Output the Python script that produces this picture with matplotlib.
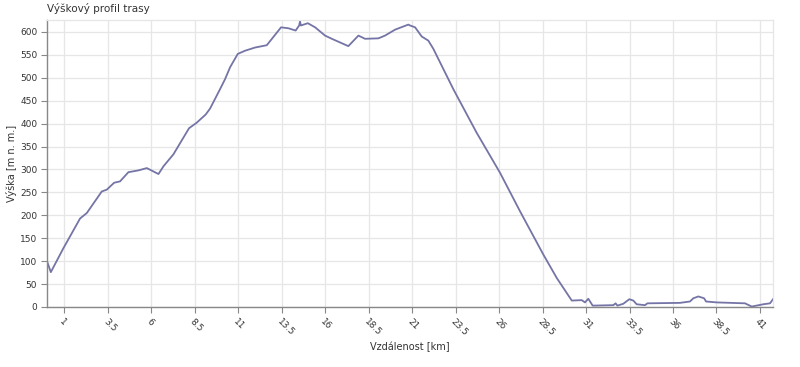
import matplotlib
matplotlib.use("Agg")
import matplotlib.pyplot as plt

# Distance [km] and elevation [m n. m.]
distance_km = [0.0, 0.22, 0.94, 1.9, 2.29, 3.15, 3.44, 3.86, 4.2, 4.68, 5.26, 5.74,
               6.41, 6.7, 7.27, 8.17, 8.61, 9.13, 9.38, 9.95, 10.24, 10.53, 10.97,
               11.39, 11.97, 12.64, 13.46, 13.88, 14.3, 14.5, 14.55, 14.6, 15.0,
               15.42, 15.99, 16.38, 17.33, 17.91, 18.29, 19.06, 19.44, 20.02, 20.78,
               20.88, 21.17, 21.55, 21.93, 22.22, 23.37, 24.71, 26.05, 27.2, 28.55,
               29.32, 30.18, 30.75, 30.94, 31.13, 31.38, 32.57, 32.7, 32.8, 33.14,
               33.49, 33.72, 33.91, 34.39, 34.53, 36.4, 36.98, 37.17, 37.46, 37.79,
               37.9, 38.52, 40.14, 40.53, 41.2, 41.58, 41.77]
elevation_m = [100, 76, 128, 193, 205, 252, 256, 271, 274, 294, 298, 303,
               290, 307, 333, 390, 402, 420, 433, 475, 497, 523, 552,
               559, 566, 571, 610, 608, 603, 614, 623, 614, 619,
               610, 592, 585, 569, 592, 585, 586, 592, 605, 616,
               614, 610, 590, 581, 563, 475, 380, 293, 209, 114,
               63, 14, 15, 10, 18, 3, 4, 8, 3, 7,
               17, 14, 6, 4, 8, 9, 12, 19, 23, 19,
               12, 10, 8, 1, 6, 8, 18]

x_ticks = [1, 3.5, 6, 8.5, 11, 13.5, 16, 18.5, 21, 23.5, 26, 28.5, 31, 33.5, 36, 38.5, 41]
x_tick_labels = ["1", "3.5", "6", "8.5", "11", "13.5", "16", "18.5", "21", "23.5",
                 "26", "28.5", "31", "33.5", "36", "38.5", "41"]
y_ticks = list(range(0, 601, 50))

title = "Výškový profil trasy"
x_label = "Vzdálenost [km]"
y_label = "Výška [m n. m.]"

plt.rcParams['font.family'] = ['DejaVu Sans']

fig = plt.figure(figsize=(8.0, 3.67), dpi=100)
ax = fig.add_axes([0.05875, 0.1635, 0.9079, 0.782])

ax.plot(distance_km, elevation_m, color="#7474a6", linewidth=1.3, solid_joinstyle="round")

ax.set_xlim(0, 41.77)
ax.set_ylim(0, 626)

ax.set_xticks(x_ticks)
ax.set_xticklabels(x_tick_labels, rotation=-45, ha="left", va="top",
                   rotation_mode="anchor", fontsize=6.5, color="#333333")
ax.set_yticks(y_ticks)
ax.set_yticklabels([str(v) for v in y_ticks], fontsize=6.5, color="#333333")

ax.grid(True, color="#e6e6e6", linewidth=0.9)
ax.set_axisbelow(True)

for side in ("left", "bottom"):
    ax.spines[side].set_color("#888888")
    ax.spines[side].set_linewidth(1.0)
for side in ("top", "right"):
    ax.spines[side].set_color("#e6e6e6")
    ax.spines[side].set_linewidth(0.9)

ax.tick_params(axis="both", direction="out", length=4, width=0.8, color="#888888", pad=3)

ax.set_xlabel(x_label, fontsize=7, color="#333333", labelpad=3)
ax.set_ylabel(y_label, fontsize=7, color="#333333", labelpad=2)

fig.text(47 / 800, 1 - 8 / 367, title, fontsize=7.5, color="#333333", ha="left", va="center")

fig.savefig("out.png", dpi=100, facecolor="white")
